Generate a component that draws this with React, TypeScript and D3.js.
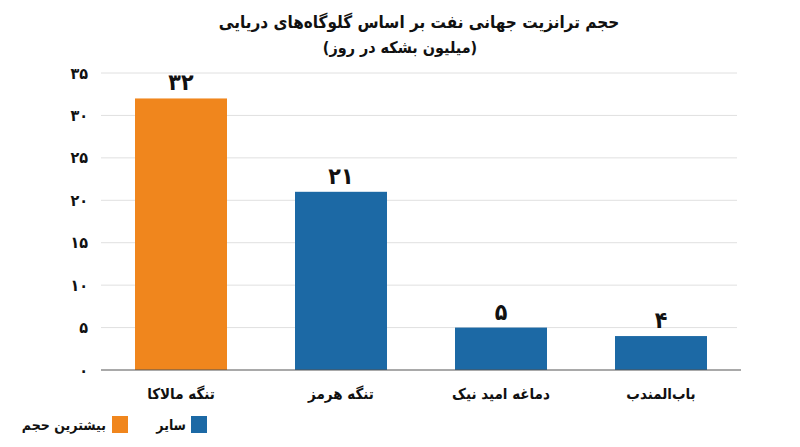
import * as React from 'react';
import { useEffect, useRef } from 'react';
import * as d3 from 'd3';

const categories = ['تنگه مالاکا', 'تنگه هرمز', 'دماغه امید نیک', 'باب‌المندب'];
const values = [32, 21, 5, 4];
const groups = ['max', 'other', 'other', 'other'];
const yTicks = [0, 5, 10, 15, 20, 25, 30, 35];
const legendLabels = ['بیشترین حجم', 'سایر'];

const ORANGE = '#F0861D';
const BLUE = '#1C69A5';
const FONT = '"DejaVu Sans Condensed", "DejaVu Sans", sans-serif';

const faDigits = (n: number) => String(n).replace(/\d/g, d => '۰۱۲۳۴۵۶۷۸۹'[+d]);

const App: React.FC = () => {
    const ref = useRef<SVGSVGElement>(null);

    useEffect(() => {
        const svg = d3.select(ref.current);
        svg.selectAll('*').remove();

        const margin = { top: 73, left: 101, right: 59, bottom: 77 };
        const width = 800, height = 447;

        const x = d3.scaleBand<string>()
            .domain(categories)
            .range([margin.left, width - margin.right])
            .paddingInner(0.425)
            .paddingOuter(0.2125);

        const y = d3.scaleLinear()
            .domain([0, 35])
            .range([height - margin.bottom, margin.top]);

        // title
        svg.append('text')
            .attr('x', 419).attr('y', 28)
            .attr('text-anchor', 'middle')
            .attr('direction', 'rtl')
            .attr('font-family', FONT).attr('font-weight', 'bold')
            .attr('font-size', 17).attr('fill', '#111')
            .text('حجم ترانزیت جهانی نفت بر اساس گلوگاه‌های دریایی');
        svg.append('text')
            .attr('x', 400).attr('y', 53)
            .attr('text-anchor', 'middle')
            .attr('direction', 'rtl')
            .attr('font-family', FONT).attr('font-weight', 'bold')
            .attr('font-size', 16).attr('fill', '#111')
            .text('(میلیون بشکه در روز)');

        // grid
        svg.append('g')
            .selectAll('line')
            .data(yTicks.filter(t => t > 0))
            .enter()
            .append('line')
            .attr('x1', margin.left).attr('x2', width - margin.right - 4)
            .attr('y1', d => y(d)).attr('y2', d => y(d))
            .attr('stroke', '#e0e0e0').attr('stroke-width', 1);

        // y labels
        svg.append('g')
            .selectAll('text')
            .data(yTicks)
            .enter()
            .append('text')
            .attr('x', 88).attr('y', d => y(d))
            .attr('dy', '0.35em')
            .attr('text-anchor', 'end')
            .attr('font-family', FONT).attr('font-weight', 'bold')
            .attr('font-size', 16).attr('fill', '#111')
            .text(d => faDigits(d));

        // bars
        svg.append('g')
            .selectAll('rect')
            .data(values)
            .enter()
            .append('rect')
            .attr('x', (_d, i) => x(categories[i])!)
            .attr('width', x.bandwidth())
            .attr('y', d => y(d))
            .attr('height', d => y(0) - y(d))
            .attr('fill', (_d, i) => groups[i] === 'max' ? ORANGE : BLUE);

        // baseline
        svg.append('line')
            .attr('x1', margin.left).attr('x2', width - margin.right)
            .attr('y1', y(0)).attr('y2', y(0))
            .attr('stroke', '#555').attr('stroke-width', 1.2);

        // value labels
        svg.append('g')
            .selectAll('text')
            .data(values)
            .enter()
            .append('text')
            .attr('x', (_d, i) => x(categories[i])! + x.bandwidth() / 2)
            .attr('y', d => y(d) - 8)
            .attr('text-anchor', 'middle')
            .attr('font-family', FONT).attr('font-weight', 'bold')
            .attr('font-size', 23).attr('fill', '#111')
            .text(d => faDigits(d));

        // category labels
        svg.append('g')
            .selectAll('text')
            .data(categories)
            .enter()
            .append('text')
            .attr('x', d => x(d)! + x.bandwidth() / 2)
            .attr('y', y(0) + 29)
            .attr('text-anchor', 'middle')
            .attr('direction', 'rtl')
            .attr('font-family', FONT).attr('font-weight', 'bold')
            .attr('font-size', 15).attr('fill', '#111')
            .text(d => d);

        // legend
        const legendItems = [
            { label: legendLabels[0], color: ORANGE, sx: 112, tx: 106 },
            { label: legendLabels[1], color: BLUE, sx: 191, tx: 186 },
        ];
        const lg = svg.append('g');
        legendItems.forEach(it => {
            lg.append('rect')
                .attr('x', it.sx).attr('y', 416)
                .attr('width', 16).attr('height', 17)
                .attr('fill', it.color);
            lg.append('text')
                .attr('x', it.tx).attr('y', 425)
                .attr('dy', '0.35em')
                .attr('text-anchor', 'end')
                .attr('font-family', FONT).attr('font-weight', 'bold')
                .attr('font-size', 14).attr('fill', '#111')
                .text(it.label);
        });
    }, []);

    return (
        <svg
            ref={ref}
            width={800}
            height={447}
            style={{ position: 'absolute', left: 0, top: 0, background: '#fff' }}
        />
    );
};

export default App;
